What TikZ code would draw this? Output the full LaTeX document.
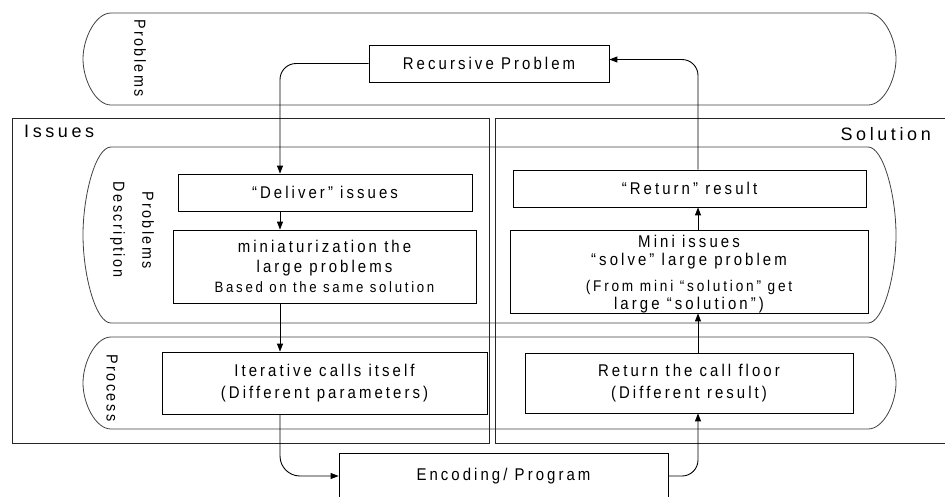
\documentclass[tikz,border=0pt]{standalone}
\usepackage{fontspec}
\setmainfont{Liberation Sans}[LetterSpace=18, FakeStretch=0.88]
\newfontfamily\vlabelfont{Liberation Sans}[LetterSpace=15, FakeStretch=0.9]
\newfontfamily\headfont{Liberation Sans}[LetterSpace=20]
\usetikzlibrary{arrows.meta}
\newcommand\drawcapsule[4]{%
 \draw[cont] (#1+28,#2) -- (#3-28,#2)
   .. controls (#3-12.5,#2) and (#3,{#2+(#4-#2)*0.2761}) .. (#3,{(#2+#4)/2})
   .. controls (#3,{#4-(#4-#2)*0.2761}) and (#3-12.5,#4) .. (#3-28,#4)
   -- (#1+28,#4)
   .. controls (#1+12.5,#4) and (#1,{#4-(#4-#2)*0.2761}) .. (#1,{(#2+#4)/2})
   .. controls (#1,{#2+(#4-#2)*0.2761}) and (#1+12.5,#2) .. cycle;}
\begin{document}
\begin{tikzpicture}[x=1pt,y=-1pt,
  box/.style={draw=black, line width=0.8pt, fill=white, inner sep=0pt, align=center, font=\fontsize{17}{20}\selectfont},
  boxtext/.style={inner sep=0pt, align=center},
  cont/.style={draw=black!75, line width=0.8pt},
  frame/.style={draw=black!85, line width=0.8pt},
  conn/.style={draw=black, line width=0.9pt, -{Triangle[length=8pt,width=6pt]}},
  vlabel/.style={rotate=-90, align=center, font=\vlabelfont\fontsize{16}{29}\selectfont, inner sep=0pt},
  hlabel/.style={font=\headfont\fontsize{18}{20}\selectfont, inner sep=0pt}]
\useasboundingbox (0,0) rectangle (945,496);
\clip (0,0) rectangle (945,496);

% containers
\drawcapsule{83}{13}{896}{105}
\drawcapsule{83}{147}{896}{323}
\drawcapsule{83}{337}{896}{429}

% frames
\draw[frame] (12,118) rectangle (489,443);
\draw[frame] (495,118) rectangle (950,443);

% labels
\node[hlabel, anchor=west] (issues) at (24,131) {Issues};
\node[hlabel, anchor=east] (sol) at (931,134) {Solution};
\node[vlabel] (pt) at (140,58) {Problems};
\node[vlabel] (pd) at (132,230) {Problems\\Description};
\node[vlabel] (pp) at (112,388) {Process};

% boxes
\node[box, minimum width=240, minimum height=37] (rec) at (489,63.5) {Recursive Problem};
\node[box, minimum width=294, minimum height=37] (deliver) at (325,192.5) {“Deliver” issues};
\node[box, minimum width=303, minimum height=73] (mini) at (324.5,266.5) {miniaturization the\\large problems\\\fontsize{15}{20}\selectfont Based on the same solution};
\node[box, minimum width=353, minimum height=37] (ret) at (689.5,188.5) {“Return” result};
\node[box, minimum width=358, minimum height=83] (minis) at (689,271.5) {};
\node[boxtext, font=\fontsize{17}{18}\selectfont] (minist) at (689,274.5) {Mini issues\\“solve” large problem\\[8pt]\fontsize{15.5}{17}\selectfont (From mini “solution” get\\large “solution”)};
\node[box, minimum width=325, minimum height=62, font=\fontsize{17}{22}\selectfont] (iter) at (324.5,383) {Iterative calls itself\\(Different parameters)};
\node[box, minimum width=328, minimum height=60, font=\fontsize{17}{22}\selectfont] (floor) at (689,383) {Return the call floor\\(Different result)};
\node[box, minimum width=329, minimum height=46] (enc) at (503.5,476) {Encoding/ Program};

% connectors
\coordinate (cl) at (280,0);
\coordinate (cr) at (698,0);
\draw[conn, rounded corners=16pt] (rec.west) -| (cl |- deliver.north);
\draw[conn] (cl |- deliver.south) -- (cl |- mini.north);
\draw[conn] (cl |- mini.south) -- (cl |- iter.north);
\draw[conn, rounded corners=20pt] (cl |- iter.south) |- (enc.west);
\draw[conn, rounded corners=16pt] (enc.east) -| (cr |- floor.south);
\draw[conn] (cr |- floor.north) -- (cr |- minis.south);
\draw[conn] (cr |- minis.north) -- (cr |- ret.south);
\draw[conn, rounded corners=16pt] (cr |- ret.north) |- ([yshift=4pt]rec.east);
\end{tikzpicture}
\end{document}
